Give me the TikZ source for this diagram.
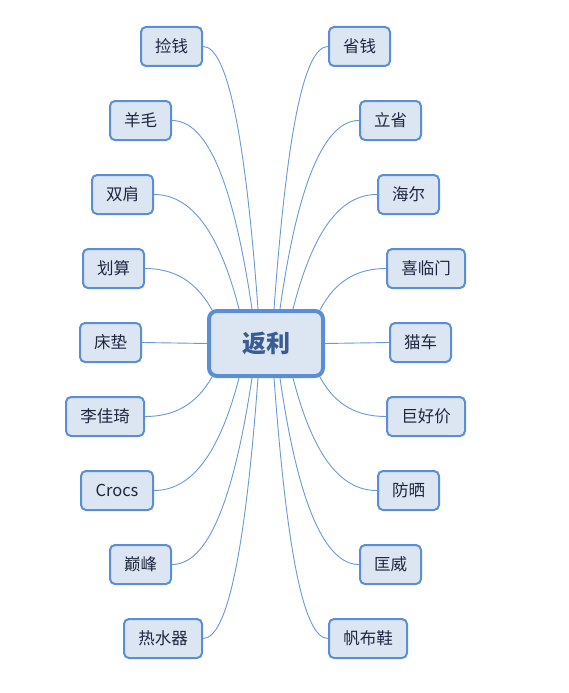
\documentclass[tikz,border=0pt]{standalone}
\usepackage{fontspec}
\newfontfamily\cjk{Noto Sans CJK SC}
\usetikzlibrary{calc}
\definecolor{bordc}{HTML}{5A8ED5}
\definecolor{fillc}{HTML}{DCE6F2}
\definecolor{linec}{HTML}{6A98D8}
\definecolor{leaftxt}{HTML}{1C2740}
\definecolor{ctrtxt}{HTML}{3B5C93}
\tikzset{
  leaf/.style={draw=bordc, fill=fillc, line width=2pt, rounded corners=5pt,
    minimum width=61pt, minimum height=39pt, inner sep=0pt,
    font=\cjk\fontsize{16.5pt}{18pt}\selectfont, text=leaftxt},
  wide/.style={leaf, minimum width=78pt},
  wider/.style={leaf, minimum width=72pt},
  center/.style={draw=bordc, fill=fillc, line width=4pt, rounded corners=8pt,
    minimum width=114pt, minimum height=65pt, inner sep=0pt,
    font=\cjk\bfseries\fontsize{24pt}{27pt}\selectfont, text=ctrtxt},
  edge/.style={draw=linec, line width=0.9pt}
}
\begin{document}
\begin{tikzpicture}[x=1pt,y=-1pt]
\useasboundingbox (0,0) rectangle (569,693);
\node[center] (c) at (266,343.5) {返利};
% left nodes
\node[leaf] (l1) at (171.5,46.5) {捡钱};
\node[leaf] (l2) at (140.5,120.5) {羊毛};
\node[leaf] (l3) at (122.5,194.5) {双肩};
\node[leaf] (l4) at (113.5,268.5) {划算};
\node[leaf] (l5) at (110.5,342.5) {床垫};
\node[wide] (l6) at (105,416.5) {李佳琦};
\node[wider] (l7) at (117,490.5) {Crocs};
\node[leaf] (l8) at (140.5,564.5) {巅峰};
\node[wide] (l9) at (163,638.5) {热水器};
% right nodes
\node[leaf] (r1) at (359.5,46.5) {省钱};
\node[leaf] (r2) at (390.5,120.5) {立省};
\node[leaf] (r3) at (408.5,194.5) {海尔};
\node[wide] (r4) at (426,268.5) {喜临门};
\node[leaf] (r5) at (420.5,342.5) {猫车};
\node[wide] (r6) at (426,416.5) {巨好价};
\node[leaf] (r7) at (408.5,490.5) {防晒};
\node[leaf] (r8) at (390.5,564.5) {匡威};
\node[wide] (r9) at (368,638.5) {帆布鞋};
% anchor points on the centre box
\coordinate (t1) at ($(c.north)+(-8,0)$);
\coordinate (t2) at ($(c.north)+(-14,0)$);
\coordinate (t3) at ($(c.north)+(-27,0)$);
\coordinate (t4) at ($(c.north)+(-54,1)$);
\coordinate (b1) at ($(c.south)+(-8,0)$);
\coordinate (b2) at ($(c.south)+(-14,0)$);
\coordinate (b3) at ($(c.south)+(-27,0)$);
\coordinate (b4) at ($(c.south)+(-54,-1)$);
\coordinate (u1) at ($(c.north)+(8,0)$);
\coordinate (u2) at ($(c.north)+(14,0)$);
\coordinate (u3) at ($(c.north)+(27,0)$);
\coordinate (u4) at ($(c.north)+(54,1)$);
\coordinate (d1) at ($(c.south)+(8,0)$);
\coordinate (d2) at ($(c.south)+(14,0)$);
\coordinate (d3) at ($(c.south)+(27,0)$);
\coordinate (d4) at ($(c.south)+(54,-1)$);
\draw[edge] (l1.east) .. controls +(24,0) and +(-13,-177) .. (t1);
\draw[edge] (l2.east) .. controls +(35,0) and +(-19,-128) .. (t2);
\draw[edge] (l3.east) .. controls +(37,0) and +(-20,-78) .. (t3);
\draw[edge] (l4.east) .. controls +(29,0) and +(-16,-29) .. (t4);
\draw[edge] (l5.east) -- (c.west);
\draw[edge] (l6.east) .. controls +(29,0) and +(-16,28) .. (b4);
\draw[edge] (l7.east) .. controls +(37,0) and +(-20,77) .. (b3);
\draw[edge] (l8.east) .. controls +(35,0) and +(-19,126) .. (b2);
\draw[edge] (l9.east) .. controls +(24,0) and +(-13,176) .. (b1);
\draw[edge] (r1.west) .. controls +(-24,0) and +(13,-177) .. (u1);
\draw[edge] (r2.west) .. controls +(-34,0) and +(18,-128) .. (u2);
\draw[edge] (r3.west) .. controls +(-37,0) and +(20,-78) .. (u3);
\draw[edge] (r4.west) .. controls +(-29,0) and +(15,-29) .. (u4);
\draw[edge] (r5.west) -- (c.east);
\draw[edge] (r6.west) .. controls +(-29,0) and +(15,28) .. (d4);
\draw[edge] (r7.west) .. controls +(-37,0) and +(20,77) .. (d3);
\draw[edge] (r8.west) .. controls +(-34,0) and +(18,126) .. (d2);
\draw[edge] (r9.west) .. controls +(-24,0) and +(13,176) .. (d1);
\end{tikzpicture}
\end{document}
